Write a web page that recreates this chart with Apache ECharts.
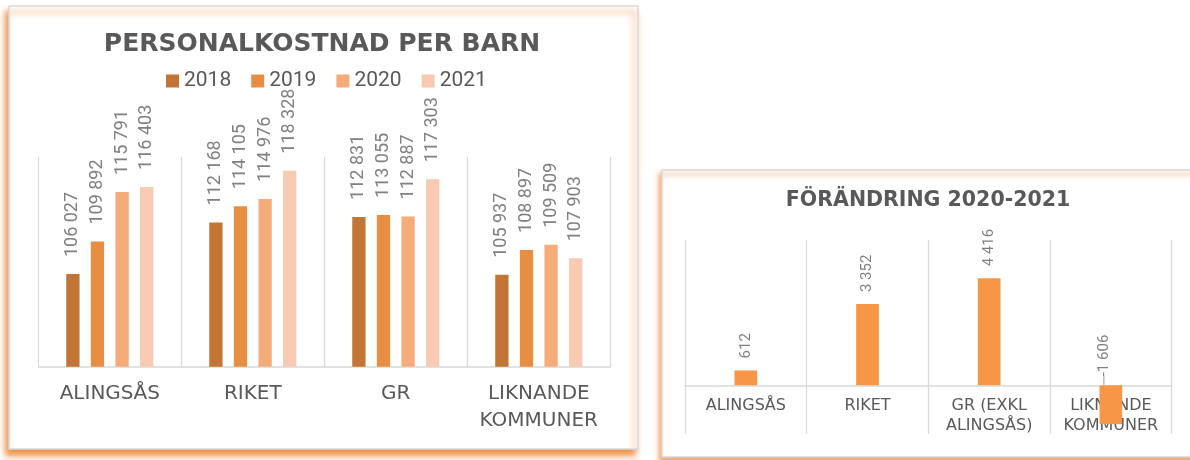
<html>
<head>
  <meta charset="utf-8">
  <title>Personalkostnad per barn</title>
  <script type="text/javascript" src="https://cdn.jsdelivr.net/npm/echarts@6/dist/echarts.min.js"></script>
  <style>
    body { margin: 0; background: #fff; }
  </style>
</head>
<body>
<div id="chartmain" style="width:1190px; height:460px;"></div>
<script type="text/javascript">
  // vänster diagram: personalkostnad per barn
  const years = ['2018', '2019', '2020', '2021'];
  const regions = ['ALINGSÅS', 'RIKET', 'GR', 'LIKNANDE\nKOMMUNER'];
  const cost2018 = [106027, 112168, 112831, 105937];
  const cost2019 = [109892, 114105, 113055, 108897];
  const cost2020 = [115791, 114976, 112887, 109509];
  const cost2021 = [116403, 118328, 117303, 107903];
  const yearColors = ['#C27535', '#E88E43', '#F6AC78', '#F8CAB1'];

  // höger diagram: förändring 2020-2021
  const changeRegions = ['ALINGSÅS', 'RIKET', 'GR (EXKL\nALINGSÅS)', 'LIKNANDE\nKOMMUNER'];
  const change = [612, 3352, 4416, -1606];

  // 106027 -> "106 027"
  function fmt(v) {
    return String(v).replace(/\B(?=(\d{3})+(?!\d))/g, ' ');
  }

  const costData = [cost2018, cost2019, cost2020, cost2021];

  let costSeries = years.map(function (y, i) {
    return {
      name: y,
      type: 'bar',
      xAxisIndex: 0,
      yAxisIndex: 0,
      barWidth: 13.3,
      barGap: '85%',
      itemStyle: { color: yearColors[i] },
      label: {
        show: true,
        position: 'top',
        rotate: 90,
        align: 'left',
        verticalAlign: 'middle',
        distance: 17,
        fontFamily: 'Roboto',
        fontSize: 18,
        color: '#808080',
        formatter: function (p) { return fmt(p.value); }
      },
      data: costData[i]
    };
  });

  // bara den negativa stapeln får en hänvisningslinje
  let changeData = change.map(function (v) {
    if (v < 0) {
      return { value: v, labelLine: { show: true, lineStyle: { color: '#a6a6a6', width: 1.2 } } };
    }
    return v;
  });

  let option = {
    backgroundColor: '#fff',
    animation: false,
    graphic: [
      {
        type: 'rect', z: -10, silent: true,
        shape: { x: 9, y: 6, width: 629, height: 443 },
        style: {
          fill: '#fff', stroke: '#d9d9d9', lineWidth: 1.5,
          shadowBlur: 6, shadowColor: 'rgba(240,135,55,0.95)',
          shadowOffsetX: -3, shadowOffsetY: 6
        }
      },
      {
        type: 'rect', z: -10, silent: true,
        shape: { x: 662, y: 170, width: 540, height: 287 },
        style: {
          fill: '#fff', stroke: '#d9d9d9', lineWidth: 1.5,
          shadowBlur: 5, shadowColor: 'rgba(240,135,55,0.8)',
          shadowOffsetX: -2, shadowOffsetY: 4
        }
      }
    ],
    title: [{
      text: 'PERSONALKOSTNAD PER BARN',
      left: 322,
      top: 32,
      textAlign: 'center',
      padding: 0,
      textStyle: { fontFamily: 'DejaVu Sans', fontWeight: 'bold', fontSize: 25, color: '#595959' }
    }, {
      text: 'FÖRÄNDRING 2020-2021',
      left: 928,
      top: 190,
      textAlign: 'center',
      padding: 0,
      textStyle: { fontFamily: 'DejaVu Sans', fontWeight: 'bold', fontSize: 20.5, color: '#595959' }
    }],
    legend: {
      data: years,
      left: 166,
      top: 70.5,
      padding: 0,
      itemGap: 20,
      itemWidth: 13,
      itemHeight: 13,
      icon: 'rect',
      textStyle: { fontFamily: 'Roboto', fontSize: 21, color: '#595959' }
    },
    grid: [
      { left: 38.3, top: 156.7, width: 572, height: 210, outerBoundsMode: 'none' },
      { left: 685, top: 240, width: 486.7, height: 193.7, outerBoundsMode: 'none' }
    ],
    xAxis: [{
      type: 'category',
      gridIndex: 0,
      data: regions,
      axisTick: { show: false },
      axisLine: { lineStyle: { color: '#d9d9d9', width: 1.5 } },
      splitLine: { show: true, lineStyle: { color: '#d9d9d9', width: 1.3 } },
      axisLabel: {
        interval: 0,
        margin: 14,
        lineHeight: 27,
        fontFamily: 'DejaVu Sans',
        fontSize: 20,
        color: '#595959'
      }
    }, {
      type: 'category',
      gridIndex: 1,
      data: changeRegions,
      axisTick: { show: false },
      axisLine: { onZero: true, lineStyle: { color: '#d9d9d9', width: 1.5 } },
      splitLine: { show: true, lineStyle: { color: '#d9d9d9', width: 1.3 } },
      axisLabel: {
        interval: 0,
        // etiketterna ligger vid nollinjen, inte vid ritytans underkant
        margin: -37.5,
        lineHeight: 20,
        fontFamily: 'DejaVu Sans',
        fontSize: 16,
        color: '#595959'
      }
    }],
    yAxis: [{
      type: 'value',
      gridIndex: 0,
      min: 95000,
      max: 120000,
      show: false
    }, {
      type: 'value',
      gridIndex: 1,
      min: -2000,
      max: 6000,
      show: false
    }],
    series: costSeries.concat([{
      name: 'Förändring',
      type: 'bar',
      xAxisIndex: 1,
      yAxisIndex: 1,
      barWidth: 22.7,
      itemStyle: { color: '#F79646' },
      label: {
        show: true,
        position: 'top',
        rotate: 90,
        align: 'left',
        verticalAlign: 'middle',
        distance: 12,
        fontFamily: 'Roboto',
        fontSize: 15,
        color: '#808080',
        formatter: function (p) { return fmt(p.value); }
      },
      labelLayout: function (p) {
        if (p.dataIndex === 3) {
          return { dx: -3, dy: -7 };
        }
      },
      data: changeData
    }])
  };

  let myChart = echarts.init(document.getElementById('chartmain'));
  myChart.setOption(option);
</script>
</body>
</html>
